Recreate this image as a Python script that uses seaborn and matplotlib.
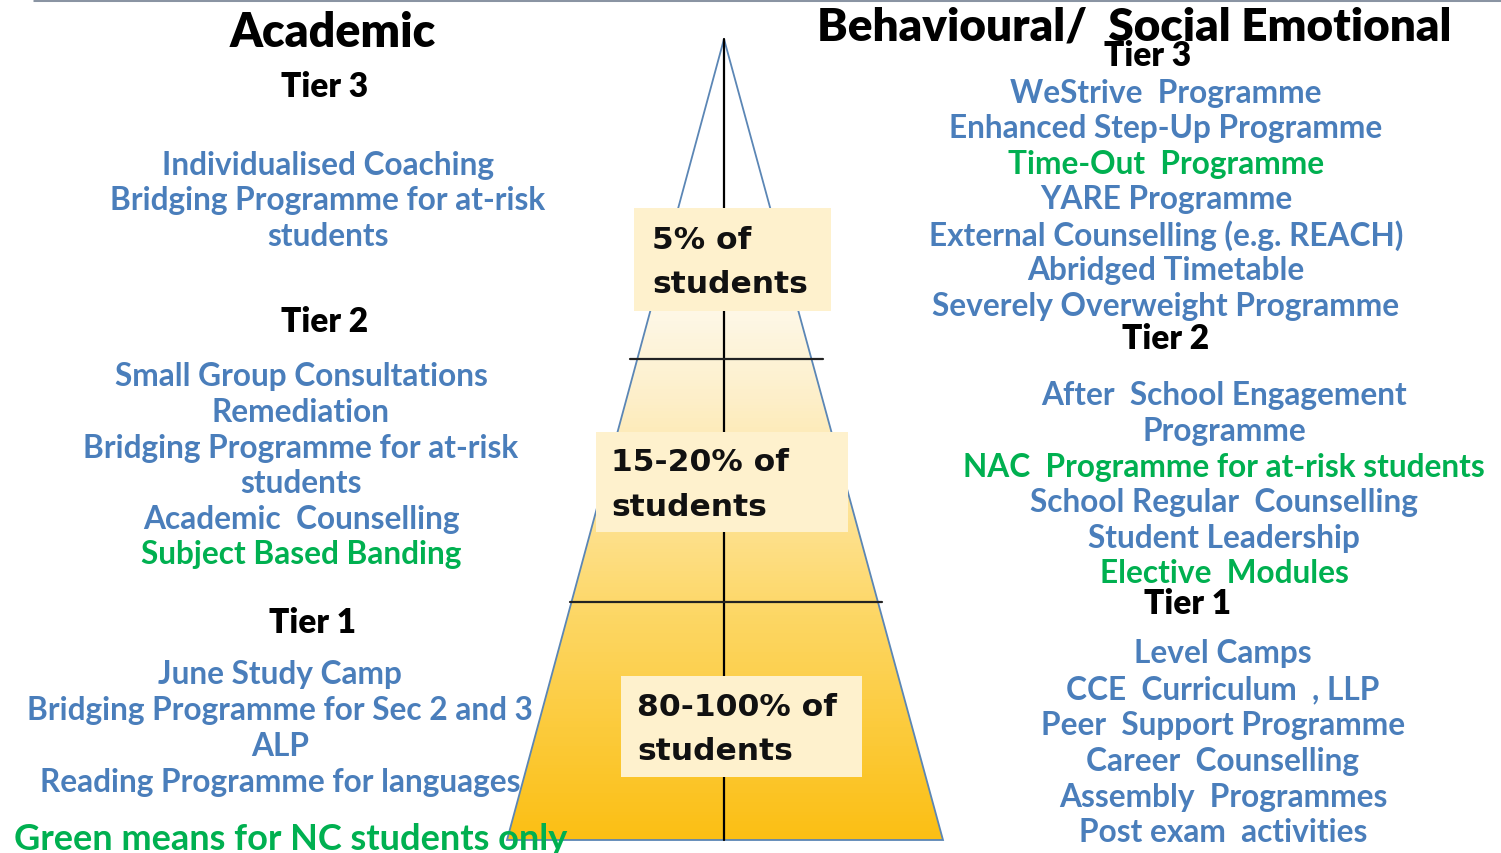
import matplotlib.pyplot as plt
import numpy as np
import seaborn as sns
from matplotlib.colors import LinearSegmentedColormap
from matplotlib.patches import Polygon, Rectangle

# ---- content -------------------------------------------------------------
left_title = "Academic"
right_title = "Behavioural/  Social Emotional"
tier_names = ["Tier 3", "Tier 2", "Tier 1"]

# (text, is_nc) -- NC items are shown in green
academic_items = [
    [("Individualised Coaching", False), ("Bridging Programme for at-risk", False), ("students", False)],
    [("Small Group Consultations", False), ("Remediation", False),
     ("Bridging Programme for at-risk", False), ("students", False),
     ("Academic  Counselling", False), ("Subject Based Banding", True)],
    [("June Study Camp", False), ("Bridging Programme for Sec 2 and 3", False),
     ("ALP", False), ("Reading Programme for languages", False)],
]
behaviour_items = [
    [("WeStrive  Programme", False), ("Enhanced Step-Up Programme", False),
     ("Time-Out  Programme", True), ("YARE Programme", False),
     ("External Counselling (e.g. REACH)", False), ("Abridged Timetable", False),
     ("Severely Overweight Programme", False)],
    [("After  School Engagement", False), ("Programme", False),
     ("NAC  Programme for at-risk students", True), ("School Regular  Counselling", False),
     ("Student Leadership", False), ("Elective  Modules", True)],
    [("Level Camps", False), ("CCE  Curriculum  , LLP", False),
     ("Peer  Support Programme", False), ("Career  Counselling", False),
     ("Assembly  Programmes", False), ("Post exam  activities", False)],
]
share_labels = [("5% of", "students"), ("15-20% of", "students"), ("80-100% of", "students")]
footnote = "Green means for NC students only"

# ---- layout (pixel coordinates, y down) ----------------------------------
W, H = 1501, 854
apex = (724, 40)
base_y, base_l, base_r = 841, 507, 943
divider_y = [360, 603]
divider_ext = [(630, 823), (570, 882)]
boxes = [(634, 209, 831, 312), (596, 433, 848, 533), (621, 677, 862, 778)]
box_text_x = [652, 611, 637]

left_head_x = [325, 325, 313]
left_item_x = [328, 301, 280]
left_head_y = [87, 322, 623]
left_item_y0 = [165, 377, 675]
right_head_x = [1148, 1166, 1188]
right_item_x = [1166, 1224, 1223]
right_head_y = [56, 339, 604]
right_item_y0 = [93, 396, 654]
left_step = [35.5, 35.6, 35.7]
right_step = [35.6, 35.6, 35.8]

BLUE = "#4A7EBB"
GREEN = "#00B050"

sns.set_theme(style="white")
plt.rcParams["font.family"] = ["Lato", "DejaVu Sans"]

fig = plt.figure(figsize=(W / 100, H / 100), dpi=100)
ax = fig.add_axes([0, 0, 1, 1])
ax.set_xlim(0, W)
ax.set_ylim(H, 0)
ax.axis("off")

# top frame line
ax.plot([33, W], [1, 1], color="#8A94A3", lw=2.2, solid_capstyle="butt")

# pyramid with vertical gradient
pts = [apex, (base_r, base_y), (base_l, base_y)]
tri = Polygon(pts, closed=True, facecolor="none", edgecolor="#5B86B5", lw=1.3, zorder=3)
ax.add_patch(tri)
cmap = LinearSegmentedColormap.from_list(
    "gold", [(0, "#FFFFFF"), (0.25, "#FFFFFF"), (0.45, "#FDEFC9"), (0.72, "#FDD765"), (1, "#FBBF14")]
)
grad = np.linspace(0, 1, 256).reshape(-1, 1)
im = ax.imshow(grad, cmap=cmap, aspect="auto", extent=(base_l, base_r, base_y, apex[1]),
               origin="upper", zorder=1)
clip = Polygon(pts, closed=True, transform=ax.transData)
im.set_clip_path(clip)

ax.plot([apex[0], apex[0]], [apex[1], base_y], color="black", lw=1.6, zorder=4)
for y, (x0, x1) in zip(divider_y, divider_ext):
    ax.plot([x0, x1], [y, y], color="#222222", lw=1.6, zorder=4)

for (x0, y0, x1, y1), tx, (l1, l2) in zip(boxes, box_text_x, share_labels):
    ax.add_patch(Rectangle((x0, y0), x1 - x0, y1 - y0, facecolor="#FEF1CD", edgecolor="none", zorder=5))
    cy = (y0 + y1) / 2
    ax.text(tx, cy - 20, l1, ha="left", va="center", fontsize=22.6, fontweight="bold",
            family="DejaVu Sans", color="#111111", zorder=6)
    ax.text(tx, cy + 24, l2, ha="left", va="center", fontsize=22.6, fontweight="bold",
            family="DejaVu Sans", color="#111111", zorder=6)

# titles
ax.text(333, 33, left_title, ha="center", va="center", fontsize=33.5, fontweight="heavy", color="black")
ax.text(1134, 27, right_title, ha="center", va="center", fontsize=33, fontweight="heavy", color="black")


def draw_column(items, head_x, head_y, item_x, item_y0, steps):
    for i, tier in enumerate(tier_names):
        ax.text(head_x[i], head_y[i], tier, ha="center", va="center", fontsize=24,
                fontweight="heavy", color="black", zorder=7)
        for j, (txt, nc) in enumerate(items[i]):
            ax.text(item_x[i], item_y0[i] + j * steps[i], txt, ha="center", va="center",
                    fontsize=22.8, fontweight="bold", color=GREEN if nc else BLUE, zorder=7)


draw_column(academic_items, left_head_x, left_head_y, left_item_x, left_item_y0, left_step)
draw_column(behaviour_items, right_head_x, right_head_y, right_item_x, right_item_y0, right_step)

ax.text(14, 840, footnote, ha="left", va="center", fontsize=26, fontweight="bold", color=GREEN, zorder=7)

fig.savefig("out.png", dpi=100)
plt.close(fig)
